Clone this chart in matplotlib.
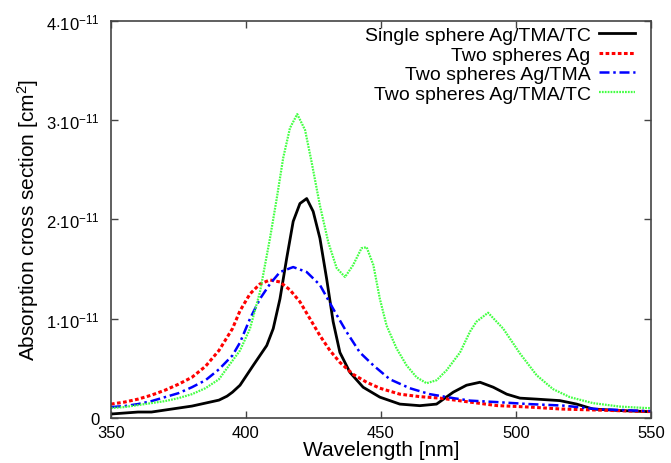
import numpy as np
import matplotlib
matplotlib.use("Agg")
import matplotlib.pyplot as plt
from matplotlib.ticker import FixedLocator, FuncFormatter

plt.rcParams['font.family'] = ['Liberation Sans', 'DejaVu Sans']
plt.rcParams['mathtext.fontset'] = 'custom'
plt.rcParams['mathtext.rm'] = 'Liberation Sans'
plt.rcParams['mathtext.it'] = 'Liberation Sans'

# Data (values in units of 1e-11 cm^2)
wl_single = [350, 355, 360, 365, 370, 375, 380, 385, 390, 393, 395, 397.8, 402.7, 407.7, 410.1,
             412.6, 415.1, 417.5, 420, 422.5, 424.9, 427.4, 429.9, 432.3, 434.8, 438.5, 443.4,
             449.6, 457, 464.4, 470.6, 476.8, 481.7, 486.7, 491.6, 496.6, 501.5, 507.7, 516.3,
             522.5, 528.6, 538.5, 548.4, 550]
single = [0.04, 0.05, 0.06, 0.06, 0.08, 0.10, 0.12, 0.15, 0.18, 0.22, 0.26, 0.33, 0.53, 0.73,
          0.90, 1.20, 1.61, 1.98, 2.16, 2.21, 2.08, 1.81, 1.40, 0.97, 0.66, 0.46, 0.31, 0.21,
          0.14, 0.124, 0.14, 0.26, 0.33, 0.36, 0.31, 0.24, 0.20, 0.19, 0.175, 0.14, 0.09,
          0.075, 0.065, 0.065]

wl_ag = [350, 355, 360, 365, 370, 375, 380, 385, 390, 395, 397.8, 401.5, 405.2, 408.9, 412.6,
         416.3, 420, 423.7, 427.4, 431.1, 434.8, 439.7, 444.7, 449.6, 457, 464.4, 471.9, 483,
         493, 505, 517, 530, 548.5, 550]
two_ag = [0.14, 0.16, 0.19, 0.23, 0.28, 0.34, 0.41, 0.52, 0.68, 0.90, 1.08, 1.25, 1.35, 1.39,
          1.37, 1.29, 1.17, 1.00, 0.83, 0.68, 0.56, 0.44, 0.36, 0.30, 0.24, 0.215, 0.20, 0.16,
          0.125, 0.11, 0.09, 0.08, 0.065, 0.065]

wl_tma = [350, 355, 360, 365, 370, 375, 380, 385, 390, 395, 397.8, 401.5, 405.2, 408.9, 412.6,
          417.5, 422.5, 427.4, 432.3, 437.2, 442.2, 447.2, 453.3, 460.7, 468.1, 476.8, 483,
          493, 505, 517.4, 530, 548.5, 550]
two_tma = [0.11, 0.12, 0.14, 0.17, 0.21, 0.25, 0.31, 0.38, 0.49, 0.63, 0.76, 1.00, 1.20, 1.35,
           1.47, 1.52, 1.47, 1.34, 1.10, 0.87, 0.66, 0.53, 0.39, 0.30, 0.24, 0.20, 0.175,
           0.16, 0.14, 0.125, 0.09, 0.07, 0.07]

wl_tc = [350, 355, 360, 365, 370, 375, 380, 385, 390, 394, 397.8, 401.5, 405.2, 408.9, 411.4,
         413.8, 416.3, 419, 421.9, 424.3, 427.4, 430.5, 433.6, 436.7, 439.7, 442.8, 444.7,
         447.2, 449.6, 452.1, 455.8, 459.5, 463.2, 466.9, 470.6, 474.3, 479.3, 483, 485.4,
         489.7, 495.3, 501.5, 507.7, 513.8, 520, 528.5, 538.5, 548.4, 550]
two_tc = [0.10, 0.11, 0.13, 0.15, 0.17, 0.20, 0.24, 0.30, 0.39, 0.54, 0.68, 0.90, 1.27, 1.81,
          2.21, 2.62, 2.92, 3.06, 2.90, 2.58, 2.14, 1.77, 1.51, 1.42, 1.54, 1.71, 1.72, 1.54,
          1.20, 0.93, 0.70, 0.53, 0.41, 0.35, 0.38, 0.48, 0.66, 0.87, 0.97, 1.06, 0.90, 0.65,
          0.43, 0.29, 0.21, 0.15, 0.115, 0.10, 0.10]

labels = ["Single sphere Ag/TMA/TC", "Two spheres Ag", "Two spheres Ag/TMA",
          "Two spheres Ag/TMA/TC"]
xticks = [350, 400, 450, 500, 550]
yticks = [0, 1, 2, 3, 4]

fig = plt.figure(figsize=(6.71, 4.64), dpi=100)
ax = fig.add_axes([0.1654, 0.097, 0.8046, 0.856])

scale = 1e-11
ax.plot(wl_single, np.array(single) * scale, color='black', lw=2.0, ls='-', label=labels[0])
ax.plot(wl_ag, np.array(two_ag) * scale, color='#ff0000', lw=2.2, ls=(0, (1.2, 0.8)), label=labels[1])
ax.plot(wl_tma, np.array(two_tma) * scale, color='#0000ff', lw=1.8, ls=(0, (4, 1.5, 1, 1.5)), label=labels[2])
ax.plot(wl_tc, np.array(two_tc) * scale, color='#44ff44', lw=1.6, ls=(0, (0.8, 0.5)), label=labels[3])

ax.set_xlim(350, 550)
ax.set_ylim(0, 4e-11)
ax.xaxis.set_major_locator(FixedLocator(xticks))
ax.yaxis.set_major_locator(FixedLocator([v * scale for v in yticks]))

def yfmt(v, pos):
    n = int(round(v / scale))
    if n == 0:
        return "0"
    return r"%d$\cdot$10$^{-11}$" % n
ax.yaxis.set_major_formatter(FuncFormatter(yfmt))

ax.tick_params(direction='in', length=5, width=1, top=True, right=True, labelsize=12,
               color='#444444', pad=8)
ax.tick_params(axis='x', pad=5)
for s in ax.spines.values():
    s.set_color('#444444')
    s.set_linewidth(1.2)

ax.set_xlabel("Wavelength [nm]", fontsize=15, labelpad=0)
ax.set_ylabel("Absorption cross section [cm$^2$]", fontsize=15, labelpad=4)

leg = ax.legend(loc='upper right', bbox_to_anchor=(0.993, 1.015), frameon=False, fontsize=14,
                markerfirst=False, handlelength=1.85, handletextpad=0.45, labelspacing=0.1,
                borderaxespad=0.2)
for vp in leg._legend_handle_box.get_children():
    vp.align = 'right'

fig.savefig("out.png", dpi=100)
